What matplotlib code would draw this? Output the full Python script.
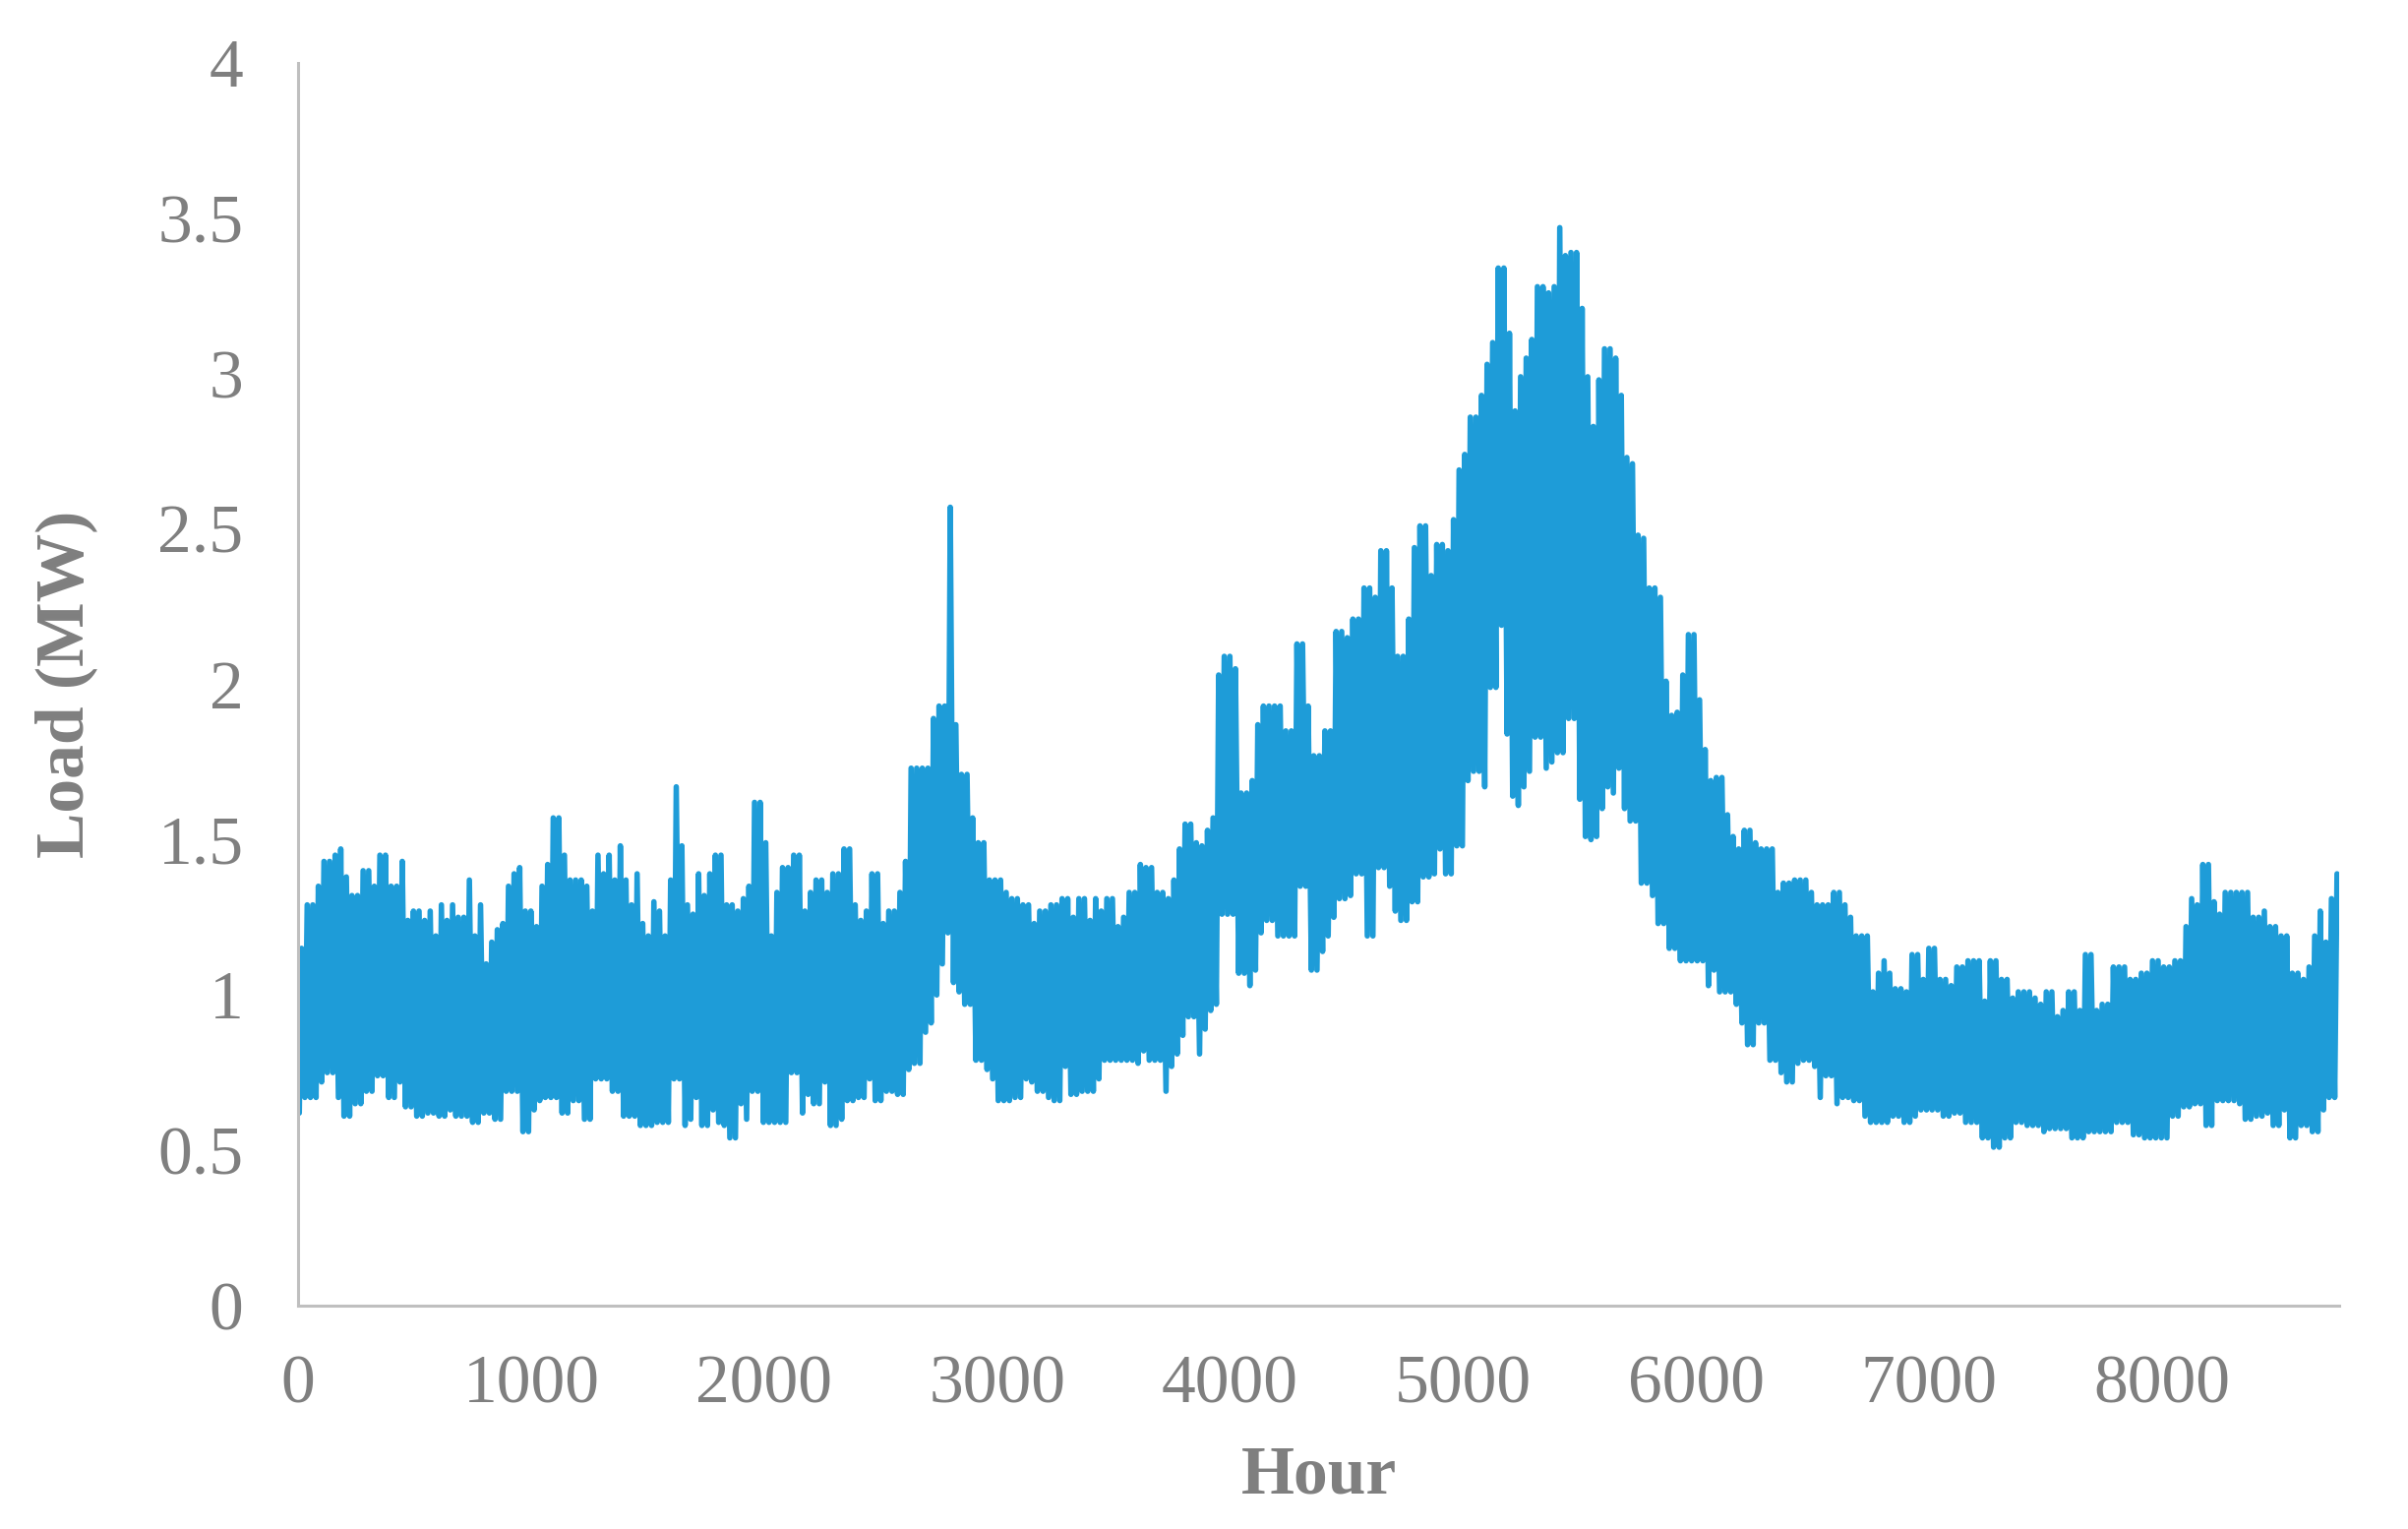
import numpy as np
import matplotlib
matplotlib.use('Agg')
import matplotlib.pyplot as plt

# daily peak and night trough of the hourly load (MW), day 0..364
peak_load = [
    1.15, 1.29, 1.29, 1.35, 1.43, 1.43, 1.45, 1.47, 1.38, 1.32,
    1.32, 1.40, 1.40, 1.35, 1.45, 1.45, 1.35, 1.35, 1.43, 1.24,
    1.27, 1.27, 1.24, 1.27, 1.19, 1.29, 1.24, 1.29, 1.25, 1.25,
    1.37, 1.19, 1.29, 1.10, 1.17, 1.21, 1.23, 1.35, 1.39, 1.41,
    1.27, 1.27, 1.22, 1.35, 1.42, 1.57, 1.57, 1.45, 1.37, 1.37,
    1.37, 1.35, 1.27, 1.45, 1.39, 1.45, 1.37, 1.48, 1.37, 1.29,
    1.39, 1.23, 1.19, 1.30, 1.27, 1.19, 1.37, 1.67, 1.48, 1.29,
    1.26, 1.39, 1.32, 1.39, 1.45, 1.45, 1.29, 1.29, 1.27, 1.31,
    1.35, 1.62, 1.62, 1.49, 1.19, 1.33, 1.41, 1.41, 1.45, 1.45,
    1.27, 1.33, 1.37, 1.37, 1.33, 1.39, 1.39, 1.47, 1.47, 1.29,
    1.24, 1.27, 1.39, 1.39, 1.23, 1.27, 1.27, 1.33, 1.43, 1.73,
    1.73, 1.73, 1.73, 1.89, 1.93, 1.93, 2.57, 1.87, 1.71, 1.71,
    1.57, 1.49, 1.49, 1.37, 1.37, 1.37, 1.33, 1.31, 1.31, 1.29,
    1.29, 1.23, 1.27, 1.27, 1.29, 1.29, 1.31, 1.31, 1.25, 1.31,
    1.31, 1.24, 1.31, 1.27, 1.31, 1.31, 1.22, 1.25, 1.33, 1.33,
    1.42, 1.41, 1.41, 1.33, 1.33, 1.31, 1.37, 1.47, 1.55, 1.55,
    1.49, 1.48, 1.53, 1.57, 2.03, 2.09, 2.09, 2.05, 1.65, 1.65,
    1.69, 1.87, 1.93, 1.93, 1.93, 1.93, 1.85, 1.85, 2.13, 2.13,
    1.93, 1.77, 1.77, 1.85, 1.85, 2.17, 2.17, 2.15, 2.21, 2.21,
    2.31, 2.31, 2.28, 2.43, 2.43, 2.31, 2.09, 2.09, 2.21, 2.44,
    2.51, 2.51, 2.35, 2.45, 2.45, 2.43, 2.53, 2.69, 2.74, 2.86,
    2.86, 2.93, 3.03, 3.10, 3.34, 3.34, 3.13, 2.88, 2.99, 3.05,
    3.11, 3.28, 3.28, 3.26, 3.28, 3.47, 3.38, 3.39, 3.39, 3.21,
    2.99, 2.83, 2.98, 3.08, 3.08, 3.05, 2.93, 2.73, 2.71, 2.48,
    2.47, 2.31, 2.31, 2.28, 2.01, 1.90, 1.91, 2.03, 2.16, 2.16,
    1.95, 1.79, 1.69, 1.70, 1.70, 1.58, 1.51, 1.47, 1.53, 1.53,
    1.49, 1.47, 1.47, 1.47, 1.33, 1.36, 1.36, 1.37, 1.37, 1.37,
    1.33, 1.29, 1.29, 1.29, 1.33, 1.33, 1.29, 1.25, 1.19, 1.19,
    1.19, 1.01, 1.07, 1.11, 1.07, 1.02, 1.02, 1.01, 1.13, 1.13,
    1.05, 1.15, 1.15, 1.05, 1.05, 1.03, 1.09, 1.09, 1.11, 1.11,
    1.11, 0.98, 1.11, 1.11, 1.05, 1.05, 0.99, 1.01, 1.01, 1.01,
    0.99, 0.97, 1.01, 1.01, 0.93, 0.95, 1.01, 1.01, 0.95, 1.13,
    1.13, 0.95, 0.97, 0.97, 1.09, 1.09, 1.09, 1.05, 1.05, 1.07,
    1.07, 1.11, 1.11, 1.09, 1.09, 1.11, 1.11, 1.22, 1.31, 1.29,
    1.42, 1.42, 1.30, 1.26, 1.33, 1.33, 1.33, 1.33, 1.33, 1.25,
    1.25, 1.27, 1.22, 1.22, 1.19, 1.19, 1.07, 1.07, 1.05, 1.09,
    1.19, 1.27, 1.17, 1.31, 1.39,
]

trough_load = [
    0.62, 0.67, 0.67, 0.67, 0.72, 0.75, 0.75, 0.67, 0.61, 0.61,
    0.65, 0.65, 0.69, 0.69, 0.74, 0.74, 0.67, 0.67, 0.72, 0.64,
    0.64, 0.61, 0.61, 0.62, 0.62, 0.61, 0.61, 0.63, 0.61, 0.61,
    0.61, 0.59, 0.59, 0.62, 0.62, 0.60, 0.60, 0.69, 0.69, 0.69,
    0.56, 0.56, 0.63, 0.66, 0.67, 0.67, 0.67, 0.62, 0.62, 0.66,
    0.66, 0.60, 0.60, 0.73, 0.73, 0.73, 0.69, 0.69, 0.61, 0.61,
    0.61, 0.58, 0.58, 0.58, 0.59, 0.59, 0.59, 0.73, 0.73, 0.58,
    0.60, 0.67, 0.58, 0.58, 0.63, 0.59, 0.58, 0.54, 0.54, 0.65,
    0.60, 0.69, 0.69, 0.59, 0.59, 0.59, 0.59, 0.59, 0.75, 0.75,
    0.62, 0.68, 0.65, 0.65, 0.72, 0.58, 0.58, 0.60, 0.66, 0.66,
    0.67, 0.67, 0.73, 0.66, 0.66, 0.69, 0.69, 0.68, 0.68, 0.76,
    0.78, 0.78, 0.88, 0.91, 1.00, 1.10, 1.20, 1.04, 1.01, 0.97,
    0.97, 0.79, 0.79, 0.76, 0.73, 0.66, 0.66, 0.66, 0.67, 0.67,
    0.73, 0.72, 0.69, 0.69, 0.67, 0.66, 0.66, 0.77, 0.68, 0.68,
    0.69, 0.69, 0.69, 0.73, 0.79, 0.79, 0.79, 0.79, 0.79, 0.79,
    0.78, 0.82, 0.79, 0.79, 0.79, 0.69, 0.77, 0.81, 0.87, 0.93,
    0.93, 0.81, 0.89, 0.95, 0.97, 1.26, 1.26, 1.26, 1.07, 1.07,
    1.03, 1.08, 1.20, 1.24, 1.24, 1.19, 1.19, 1.19, 1.19, 1.35,
    1.35, 1.08, 1.08, 1.14, 1.19, 1.25, 1.31, 1.31, 1.32, 1.39,
    1.39, 1.19, 1.19, 1.41, 1.41, 1.35, 1.27, 1.24, 1.24, 1.30,
    1.30, 1.38, 1.38, 1.39, 1.47, 1.39, 1.39, 1.48, 1.48, 1.69,
    1.72, 1.72, 1.67, 1.99, 1.99, 2.19, 1.84, 1.64, 1.61, 1.67,
    1.72, 1.83, 1.83, 1.73, 1.75, 1.78, 1.78, 1.89, 1.89, 1.63,
    1.51, 1.50, 1.51, 1.60, 1.67, 1.65, 1.73, 1.60, 1.56, 1.56,
    1.36, 1.36, 1.32, 1.23, 1.23, 1.15, 1.15, 1.11, 1.11, 1.11,
    1.11, 1.11, 1.03, 1.08, 1.01, 1.01, 1.01, 0.97, 0.91, 0.84,
    0.84, 0.91, 0.91, 0.79, 0.79, 0.75, 0.72, 0.72, 0.78, 0.79,
    0.79, 0.77, 0.67, 0.74, 0.74, 0.65, 0.67, 0.67, 0.66, 0.66,
    0.61, 0.59, 0.59, 0.59, 0.59, 0.61, 0.61, 0.59, 0.59, 0.61,
    0.63, 0.63, 0.63, 0.63, 0.61, 0.61, 0.62, 0.62, 0.59, 0.59,
    0.59, 0.54, 0.54, 0.51, 0.51, 0.54, 0.54, 0.59, 0.59, 0.58,
    0.58, 0.58, 0.56, 0.57, 0.57, 0.57, 0.57, 0.54, 0.54, 0.54,
    0.56, 0.56, 0.56, 0.56, 0.56, 0.59, 0.59, 0.59, 0.55, 0.55,
    0.54, 0.54, 0.54, 0.54, 0.54, 0.61, 0.61, 0.64, 0.64, 0.65,
    0.65, 0.58, 0.58, 0.66, 0.66, 0.66, 0.66, 0.65, 0.60, 0.60,
    0.61, 0.61, 0.62, 0.58, 0.58, 0.63, 0.54, 0.54, 0.58, 0.58,
    0.56, 0.56, 0.63, 0.67, 0.67,
]

x_ticks = [0, 1000, 2000, 3000, 4000, 5000, 6000, 7000, 8000]
y_ticks = [0, 0.5, 1, 1.5, 2, 2.5, 3, 3.5, 4]
y_tick_labels = ['0', '0.5', '1', '1.5', '2', '2.5', '3', '3.5', '4']

# trough at night, peak in the afternoon of each day
day_start = np.arange(len(peak_load)) * 24
hours = np.empty(2 * len(peak_load))
load = np.empty(2 * len(peak_load))
hours[0::2] = day_start + 5
hours[1::2] = day_start + 15
load[0::2] = trough_load
load[1::2] = peak_load

plt.rcParams['font.family'] = ['Liberation Serif', 'DejaVu Serif']
grey = '#7F7F7F'

fig = plt.figure(figsize=(12.24, 7.77), dpi=200)
ax = fig.add_axes([0.1238, 0.1461, 0.8476, 0.8127])

ax.plot(hours, load, color='#1E9CD8', linewidth=2.0,
        solid_joinstyle='round', solid_capstyle='round')

ax.set_xlim(0, 8760)
ax.set_ylim(0, 4)
ax.set_xticks(x_ticks)
ax.set_yticks(y_ticks)
ax.set_yticklabels(y_tick_labels)

for side in ['top', 'right']:
    ax.spines[side].set_visible(False)
for side in ['left', 'bottom']:
    ax.spines[side].set_color('#BFBFBF')
    ax.spines[side].set_linewidth(1.1)

ax.tick_params(axis='both', length=0, labelsize=25, labelcolor=grey)
ax.tick_params(axis='y', pad=20)
ax.tick_params(axis='x', pad=18)

ax.set_xlabel('Hour', fontsize=25, fontweight='bold', color=grey, labelpad=10)
ax.set_ylabel('Load (MW)', fontsize=25, fontweight='bold', color=grey, labelpad=22)

fig.savefig('out.png', dpi=200)
